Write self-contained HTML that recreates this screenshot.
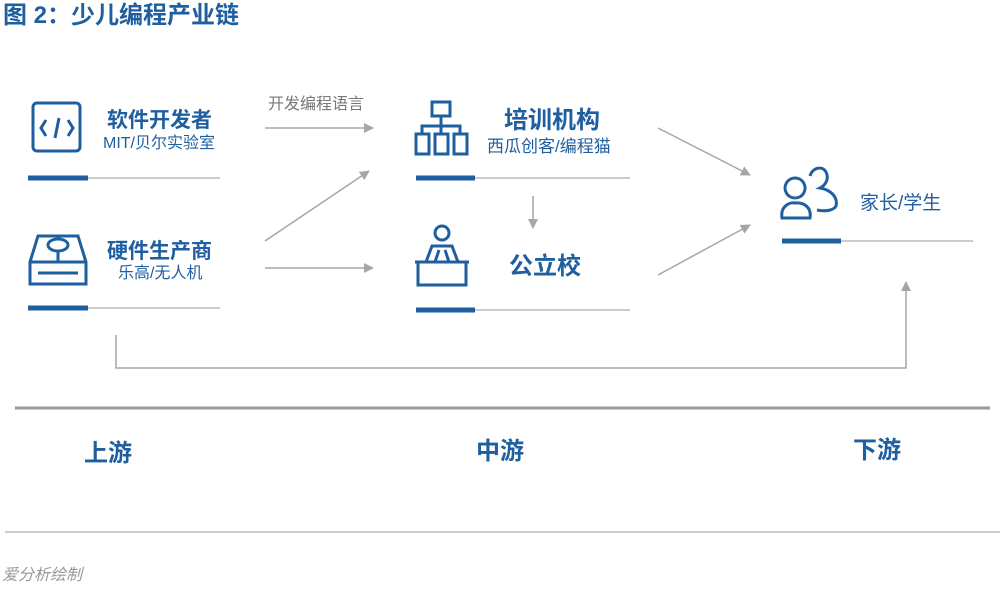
<!DOCTYPE html>
<html><head><meta charset="utf-8"><style>
body{margin:0;background:#fff;width:1000px;height:590px;overflow:hidden}
svg{display:block}
text{font-family:"Liberation Sans","Noto Sans CJK SC",sans-serif}
</style></head><body>
<svg width="1000" height="590" viewBox="0 0 1000 590">
<defs><marker id="a" markerWidth="10" markerHeight="10" refX="9" refY="5" orient="auto" markerUnits="userSpaceOnUse"><path d="M0,0 L10,5 L0,10 z" fill="#a6a6a6"/></marker></defs>
<text x="3" y="23" font-size="24" fill="#1f5fa0" font-weight="bold">图 2：少儿编程产业链</text>

<g stroke="#1f5fa0" stroke-width="3" fill="none">
<rect x="33" y="103" width="47" height="48" rx="4"/>
<path d="M46,120 L41,128 L46,136 M68,120 L73,128 L68,136 M59,118 L55,138"/>
<path d="M38,236 L78,236 L86,262 L86,284 L30,284 L30,262 Z M30,262 L86,262"/>
<ellipse cx="58" cy="245" rx="10" ry="6"/><path d="M58,251 L58,262 M38,273 L78,273"/>
<rect x="432" y="102" width="18" height="14"/><path d="M441,116 L441,126 M422,134 L422,126 L460,126 L460,134 M441,126 L441,134"/>
<rect x="416" y="134" width="13" height="20"/><rect x="435" y="134" width="13" height="20"/><rect x="454" y="134" width="13" height="20"/>
<circle cx="442" cy="233" r="7"/><path d="M426,262 L432,246 L452,246 L458,262 M439,250 L435,262 M445,250 L449,262 M415,262 L469,262 M418,262 L418,285 L466,285 L466,262"/>
<path d="M795,198 a10,10 0 1 1 0.1,0 M782,218 C780,206 790,202 795,203 C802,202 812,206 810,218 Z"/>
<path d="M810,176 C812,168 822,165 826,172 C830,180 824,186 820,188 C832,190 838,198 836,206 C834,210 826,212 817,210"/>
</g>

<g font-weight="bold" fill="#1f5fa0">
<text x="107" y="127" font-size="21">软件开发者</text>
<text x="107" y="258" font-size="21">硬件生产商</text>
<text x="504" y="128" font-size="24">培训机构</text>
<text x="509" y="274" font-size="24">公立校</text>
<text x="84" y="461" font-size="24">上游</text>
<text x="476" y="459" font-size="24">中游</text>
<text x="853" y="458" font-size="24">下游</text>
</g>
<g fill="#1f5fa0" font-size="16">
<text x="103" y="148">MIT/贝尔实验室</text>
<text x="118" y="278">乐高/无人机</text>
<text x="487" y="152" font-size="17">西瓜创客/编程猫</text>
<text x="860" y="209" font-size="19">家长/学生</text>
</g>
<text x="268" y="109" font-size="16" fill="#777">开发编程语言</text>

<g stroke="#bbb" stroke-width="1.5">
<line x1="28" y1="178" x2="220" y2="178"/><line x1="28" y1="308" x2="220" y2="308"/>
<line x1="416" y1="178" x2="630" y2="178"/><line x1="416" y1="310" x2="630" y2="310"/>
<line x1="782" y1="241" x2="973" y2="241"/>
</g>
<g stroke="#1f5fa0" stroke-width="5">
<line x1="28" y1="178" x2="88" y2="178"/><line x1="28" y1="308" x2="88" y2="308"/>
<line x1="416" y1="178" x2="475" y2="178"/><line x1="416" y1="310" x2="475" y2="310"/>
<line x1="782" y1="241" x2="841" y2="241"/>
</g>

<g stroke="#a6a6a6" stroke-width="1.5" fill="none" marker-end="url(#a)">
<line x1="265" y1="128" x2="373" y2="128"/>
<line x1="265" y1="241" x2="369" y2="171"/>
<line x1="265" y1="268" x2="373" y2="268"/>
<line x1="658" y1="128" x2="750" y2="175"/>
<line x1="658" y1="275" x2="750" y2="225"/>
<line x1="533" y1="196" x2="533" y2="228"/>
<path d="M116,335 L116,368 L906,368 L906,282"/>
</g>

<line x1="15" y1="408" x2="990" y2="408" stroke="#999" stroke-width="3"/>
<line x1="5" y1="532" x2="1000" y2="532" stroke="#bbb" stroke-width="1.5"/>
<text x="2" y="580" font-size="16" fill="#999" font-style="italic">爱分析绘制</text>
</svg>
</body></html>
